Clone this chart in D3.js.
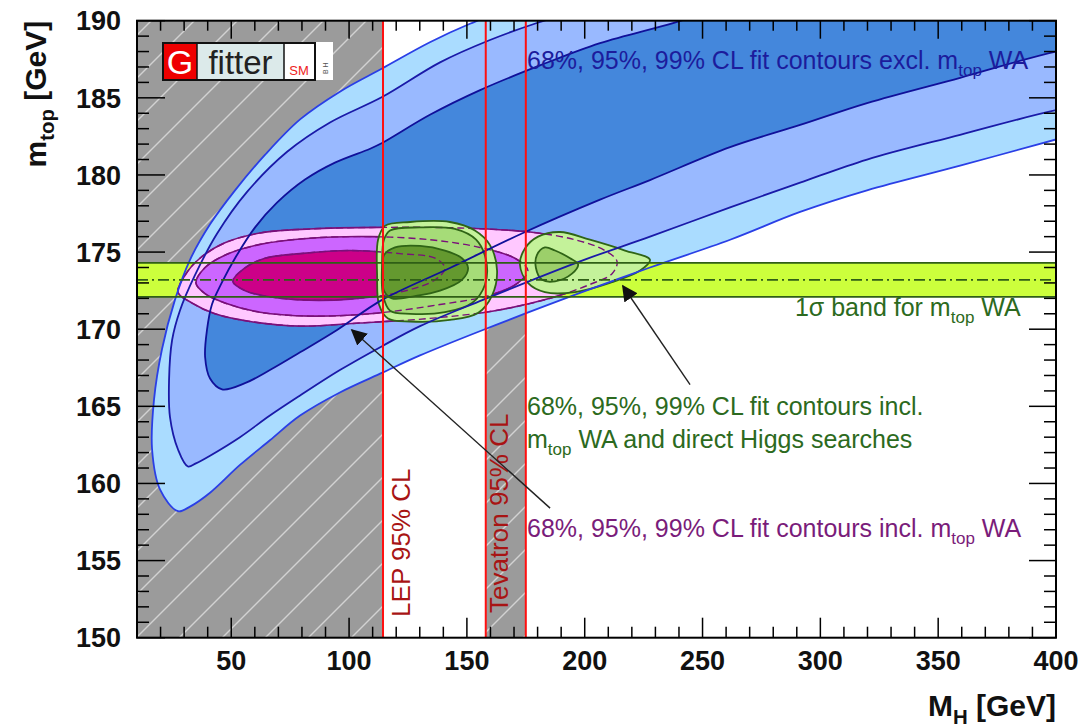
<!DOCTYPE html>
<html lang="en"><head><meta charset="utf-8">
<script src="https://d3js.org/d3.v7.min.js"></script>
<style>
body { margin: 0; background: #fff; }
svg text { font-family: "Liberation Sans", Arial, Helvetica, sans-serif; }
</style>
</head><body>
<div id="chart"></div>
<script>
// ---- data (MH [GeV], mtop [GeV]) ----
var lepLimit = 114.4;
var tevatronRange = [158, 175];
var mtopWA = 173.2;
var mtopBand = [172.1, 174.3];

var xTickLabels = [50, 100, 150, 200, 250, 300, 350, 400];
var yTickLabels = [150, 155, 160, 165, 170, 175, 180, 185, 190];

// fit excl. mtop WA
var blue99 = [[27.4,158.2],[19.8,159.6],[16.4,162.2],[17.2,165.4],[20.6,168.7],[26.1,171.9],[32.5,174.5],[41.0,176.8],[51.6,179.0],[64.3,181.3],[79.2,183.6],[96.1,185.4],[114.0,186.9],[134.3,188.6],[151.3,189.8],[172.5,191.0],[260,194],[430,194],[430,183.5],[400,182.3],[359.3,180.6],[319.8,179.0],[291.4,177.6],[261.7,175.8],[227.7,174.0],[198.0,172.35],[156.8,169.95],[130.1,168.3],[114.4,167.2],[96.1,165.9],[79.2,164.4],[66.4,162.8],[53.7,161.2],[41.0,159.4],[32.5,158.5]];
var blue95 = [[31.6,161.1],[27.4,162.2],[24.0,164.3],[23.6,166.7],[24.9,169.3],[28.2,171.2],[34.6,173.5],[44.0,176.2],[56.7,178.9],[73.7,181.5],[91.9,183.4],[114.0,185.05],[138.6,187.3],[159.8,188.75],[179.7,189.85],[198.0,190.7],[280,194],[430,194],[430,185.0],[400,184.2],[359.3,182.6],[319.8,181.0],[291.4,179.5],[261.7,177.9],[227.7,176.0],[198.0,174.4],[156.8,171.9],[130.1,170.2],[114.0,168.9],[96.1,167.35],[79.2,165.7],[66.4,164.4],[53.7,163.0],[41.0,161.8],[35.0,161.3]];
var blue68 = [[46.1,166.1],[41.0,166.8],[38.9,168.2],[39.7,169.95],[41.8,171.6],[46.1,173.05],[51.6,174.6],[60.1,176.6],[69.4,178.2],[81.3,179.7],[94.0,180.8],[108.9,181.7],[114.0,182.07],[134.3,183.9],[155.6,185.5],[181.0,187.1],[206.5,188.55],[237.5,189.85],[257.4,190.8],[330,194],[430,194],[430,188.8],[400,188.0],[359.3,186.3],[319.8,184.66],[291.4,183.24],[261.7,181.8],[227.7,179.67],[206.5,178.4],[173.8,176.24],[142.8,173.97],[114.0,171.9],[94.9,169.95],[79.2,168.5],[66.4,167.35],[55.8,166.5]];

// fit incl. mtop WA
var pink99 = [[27.4,172.4],[30.4,173.5],[36.7,174.6],[47.3,175.6],[62.2,176.24],[83.4,176.5],[113.1,176.6],[147.1,176.56],[176.8,176.3],[195.9,175.8],[208.6,175.1],[213.7,174.4],[211.6,173.6],[202.2,172.9],[185.3,172.0],[161.9,171.2],[134.3,170.7],[104.6,170.4],[79.2,170.2],[58.0,170.5],[43.1,171.0],[33.3,171.7]];
var pink95 = [[35.0,173.0],[38.9,174.0],[47.3,174.8],[62.2,175.5],[83.4,175.9],[108.9,176.0],[134.3,175.8],[155.6,175.3],[170.4,174.6],[175.9,173.8],[171.7,173.0],[159.8,172.2],[138.6,171.6],[108.9,171.0],[83.4,170.85],[62.2,171.1],[47.3,171.7],[38.9,172.3]];
var pink68 = [[50.7,173.1],[55.8,173.97],[64.3,174.6],[79.2,174.9],[100.4,175.1],[121.6,174.9],[136.5,174.6],[140.7,173.97],[136.5,173.2],[121.6,172.4],[100.4,171.95],[79.2,171.9],[64.3,172.15],[55.8,172.5]];

// fit incl. mtop WA and direct Higgs searches (two islands)
var green99a = [[112.3,175.8],[115.2,176.7],[125.9,176.95],[142.8,176.95],[153.4,176.4],[159.8,175.45],[162.8,173.8],[160.7,172.2],[154.7,171.05],[142.8,170.6],[125.9,170.5],[116.5,170.7],[112.7,171.6],[111.9,173.5]];
var green95a = [[114.8,175.8],[117.4,176.4],[130.1,176.6],[144.9,176.5],[153.9,175.8],[158.1,174.5],[157.7,172.9],[152.2,171.7],[140.7,171.1],[125.9,171.0],[117.4,171.2],[114.4,172.2],[114.0,174.2]];
var green68a = [[114.8,174.8],[119.5,175.3],[130.1,175.4],[140.7,175.1],[147.9,174.6],[150.5,173.97],[147.9,173.2],[138.6,172.5],[128.0,172.15],[118.2,172.0],[114.8,172.5],[114.4,173.8]];
var green99b = [[172.5,174.2],[174.7,175.25],[180.2,176.0],[189.5,176.3],[202.2,175.8],[217.1,175.1],[227.7,174.5],[223.5,173.8],[210.7,173.0],[195.9,172.4],[183.1,172.4],[175.9,173.0]];
var green95b = [[179.7,174.8],[183.1,175.3],[187.4,175.1],[193.8,174.6],[197.2,174.2],[194.6,173.6],[187.4,173.1],[181.9,173.2],[179.3,173.97]];

// ---- layout ----
var W = 1084, H = 727;
var pL = 137, pR = 1056, pT = 20.7, pB = 637.7;

var svg = d3.select("#chart").append("svg")
    .attr("width", W).attr("height", H);

var x = d3.scaleLinear().domain([10, 400]).range([pL, pR]);
var y = d3.scaleLinear().domain([150, 190]).range([pB, pT]);

var defs = svg.append("defs");
defs.append("clipPath").attr("id", "plotclip")
  .append("rect").attr("x", pL).attr("y", pT)
  .attr("width", pR - pL).attr("height", pB - pT);

var pat = defs.append("pattern").attr("id", "hatch")
    .attr("patternUnits", "userSpaceOnUse")
    .attr("width", 43).attr("height", 43);
pat.append("rect").attr("width", 43).attr("height", 43).attr("fill", "#9b9b9b");
[[0, 43, 43, 0], [-5, 5, 5, -5], [38, 48, 48, 38]].forEach(function (l) {
  pat.append("line").attr("x1", l[0]).attr("y1", l[1]).attr("x2", l[2]).attr("y2", l[3])
    .attr("stroke", "#d2d2d2").attr("stroke-width", 1.4);
});

var plot = svg.append("g").attr("clip-path", "url(#plotclip)");

// excluded regions
plot.append("rect").attr("x", x(10)).attr("y", y(190))
  .attr("width", x(lepLimit) - x(10)).attr("height", y(150) - y(190))
  .attr("fill", "url(#hatch)");
plot.append("rect").attr("x", x(tevatronRange[0])).attr("y", y(190))
  .attr("width", x(tevatronRange[1]) - x(tevatronRange[0])).attr("height", y(150) - y(190))
  .attr("fill", "url(#hatch)");

var contour = d3.line()
    .x(function (d) { return x(d[0]); })
    .y(function (d) { return y(d[1]); })
    .curve(d3.curveCatmullRomClosed.alpha(0.5));

// blue fills
[[blue99, "#aadcff"], [blue95, "#99b9ff"], [blue68, "#4487dc"]].forEach(function (c) {
  plot.append("path").attr("d", contour(c[0])).attr("fill", c[1]);
});

// top mass band fill
plot.append("rect").attr("x", pL).attr("y", y(mtopBand[1]))
  .attr("width", pR - pL).attr("height", y(mtopBand[0]) - y(mtopBand[1]))
  .attr("fill", "#ccff3c");

// pink fills + outlines
var pinks = [[pink99, "#ffc8ff"], [pink95, "#cc66ff"], [pink68, "#cc0088"]];
pinks.forEach(function (c) {
  plot.append("path").attr("d", contour(c[0])).attr("fill", c[1])
    .attr("stroke", "#7a107a").attr("stroke-width", 1.6);
});

// green fills
var greens = [[green99a, "#c4f29a"], [green95a, "#a6dc78"], [green68a, "#64992f"],
              [green99b, "#c4f29a"], [green95b, "#9ccf6a"]];
greens.forEach(function (c) {
  plot.append("path").attr("d", contour(c[0])).attr("fill", c[1]);
});
// pink outlines seen through the green
pinks.forEach(function (c) {
  plot.append("path").attr("d", contour(c[0])).attr("fill", "none")
    .attr("stroke", "#7a107a").attr("stroke-width", 1.4).attr("stroke-dasharray", "7,4");
});
greens.forEach(function (c) {
  plot.append("path").attr("d", contour(c[0])).attr("fill", "none")
    .attr("stroke", "#2f6416").attr("stroke-width", 1.8);
});

// blue outlines on top
[[blue99, "#2a3fe6"], [blue95, "#1a1aa8"], [blue68, "#10109a"]].forEach(function (c) {
  plot.append("path").attr("d", contour(c[0])).attr("fill", "none")
    .attr("stroke", c[1]).attr("stroke-width", 1.8);
});

// band lines
mtopBand.forEach(function (v) {
  plot.append("line").attr("x1", pL).attr("x2", pR).attr("y1", y(v)).attr("y2", y(v))
    .attr("stroke", "#2f5f16").attr("stroke-width", 1.8);
});
plot.append("line").attr("x1", pL).attr("x2", pR).attr("y1", y(mtopWA)).attr("y2", y(mtopWA))
  .attr("stroke", "#2f5f16").attr("stroke-width", 1.8).attr("stroke-dasharray", "11,4,2,4");

// exclusion limit lines
[lepLimit, tevatronRange[0], tevatronRange[1]].forEach(function (v) {
  plot.append("line").attr("x1", x(v)).attr("x2", x(v)).attr("y1", pT).attr("y2", pB)
    .attr("stroke", "#ff1010").attr("stroke-width", 2);
});

// ---- text annotations ----
// parts: strings are normal text, {sub: "..."} is a subscript
function addLabel(g, xx, yy, parts, size, color, rotate) {
  var t = g.append("text").attr("font-size", size).attr("fill", color);
  if (rotate) t.attr("transform", "translate(" + xx + "," + yy + ") rotate(-90)");
  else t.attr("x", xx).attr("y", yy);
  var shift = 0;
  parts.forEach(function (p) {
    if (typeof p === "string") {
      t.append("tspan").attr("dy", -shift).text(p);
      shift = 0;
    } else {
      shift = size * 0.28;
      t.append("tspan").attr("font-size", size * 0.68).attr("dy", shift).text(p.sub);
    }
  });
  return t;
}

var fs = 25;
addLabel(svg, x(175.5), y(186.87), ["68%, 95%, 99% CL fit contours excl. m", {sub: "top"}, " WA"], fs, "#1c1c9c");
addLabel(svg, x(175.5), y(164.43), ["68%, 95%, 99% CL fit contours incl."], fs, "#2c6a20");
addLabel(svg, x(175.5), y(162.3), ["m", {sub: "top"}, " WA and direct Higgs searches"], fs, "#2c6a20");
addLabel(svg, x(175.5), y(156.53), ["68%, 95%, 99% CL fit contours incl. m", {sub: "top"}, " WA"], fs, "#7a1c7a");
addLabel(svg, x(289.2), y(170.86), ["1\u03c3 band for m", {sub: "top"}, " WA"], fs, "#2c6a20");

addLabel(svg, x(lepLimit) + 27, y(151.35), ["LEP 95% CL"], 26, "#a81414", true);
addLabel(svg, x(tevatronRange[0]) + 22, y(151.6), ["Tevatron 95% CL"], 26, "#a81414", true);

// arrows
defs.append("marker").attr("id", "arrowhead")
  .attr("viewBox", "0 0 10 10").attr("refX", 9).attr("refY", 5)
  .attr("markerWidth", 16).attr("markerHeight", 16).attr("markerUnits", "userSpaceOnUse")
  .attr("orient", "auto")
  .append("path").attr("d", "M0,0 L10,5 L0,10 Z").attr("fill", "#111");

var arrows = [[[185.3, 158.4], [101.2, 169.95]], [[244.7, 166.4], [216.2, 172.8]]];
arrows.forEach(function (a) {
  svg.append("line")
    .attr("x1", x(a[0][0])).attr("y1", y(a[0][1]))
    .attr("x2", x(a[1][0])).attr("y2", y(a[1][1]))
    .attr("stroke", "#222").attr("stroke-width", 1.4)
    .attr("marker-end", "url(#arrowhead)");
});

// ---- axes: frame + inward ticks on all sides ----
var axes = svg.append("g").attr("stroke", "#000");
var xTicks = d3.range(10, 401, 10);
var yTicks = d3.range(150, 191, 1);
xTicks.forEach(function (v) {
  var major = v % 50 === 0;
  axes.append("line").attr("x1", x(v)).attr("x2", x(v))
    .attr("y1", pB).attr("y2", pB - (major ? 20 : 11)).attr("stroke-width", 1.5);
  axes.append("line").attr("x1", x(v)).attr("x2", x(v))
    .attr("y1", pT).attr("y2", pT + (major ? 18 : 10)).attr("stroke-width", 1.5);
});
yTicks.forEach(function (v) {
  var major = v % 5 === 0;
  axes.append("line").attr("x1", pL).attr("x2", pL + (major ? 28 : 12))
    .attr("y1", y(v)).attr("y2", y(v)).attr("stroke-width", 1.5);
  axes.append("line").attr("x1", pR).attr("x2", pR - (major ? 27 : 12))
    .attr("y1", y(v)).attr("y2", y(v)).attr("stroke-width", 1.5);
});
axes.append("rect").attr("x", pL).attr("y", pT)
  .attr("width", pR - pL).attr("height", pB - pT)
  .attr("fill", "none").attr("stroke-width", 2);

svg.append("g").selectAll("text").data(xTickLabels).join("text")
  .attr("x", function (d) { return x(d); }).attr("y", 670)
  .attr("text-anchor", "middle").attr("font-size", 27).attr("font-weight", "bold")
  .attr("fill", "#111").text(function (d) { return d; });
svg.append("g").selectAll("text").data(yTickLabels).join("text")
  .attr("x", 121).attr("y", function (d) { return y(d); }).attr("dy", "0.36em")
  .attr("text-anchor", "end").attr("font-size", 27).attr("font-weight", "bold")
  .attr("fill", "#111").text(function (d) { return d; });

var xt = addLabel(svg, pR, 716, ["M", {sub: "H"}, " [GeV]"], 30, "#111");
xt.attr("text-anchor", "end").attr("font-weight", "bold");
var yt = addLabel(svg, 46, pT, ["m", {sub: "top"}, " [GeV]"], 30, "#111", true);
yt.attr("text-anchor", "end").attr("font-weight", "bold");

// ---- Gfitter logo ----
var logo = svg.append("g");
logo.append("rect").attr("x", 163).attr("y", 43).attr("width", 34).attr("height", 37).attr("fill", "#ee0000");
logo.append("rect").attr("x", 197).attr("y", 43).attr("width", 87).attr("height", 37).attr("fill", "#dceaea");
logo.append("rect").attr("x", 284).attr("y", 43).attr("width", 31).attr("height", 37).attr("fill", "#fff");
logo.append("rect").attr("x", 163).attr("y", 43).attr("width", 152).attr("height", 37)
  .attr("fill", "none").attr("stroke", "#111").attr("stroke-width", 2);
logo.append("line").attr("x1", 197).attr("x2", 197).attr("y1", 43).attr("y2", 80).attr("stroke", "#111").attr("stroke-width", 1.5);
logo.append("line").attr("x1", 284).attr("x2", 284).attr("y1", 43).attr("y2", 80).attr("stroke", "#111").attr("stroke-width", 1.5);
logo.append("rect").attr("x", 316).attr("y", 42).attr("width", 17).attr("height", 38).attr("fill", "#fff");
logo.append("text").attr("x", 180).attr("y", 74).attr("text-anchor", "middle")
  .attr("font-size", 34).attr("fill", "#fff").text("G");
logo.append("text").attr("x", 240.5).attr("y", 74).attr("text-anchor", "middle")
  .attr("font-size", 33).attr("fill", "#222").text("fitter");
logo.append("text").attr("x", 299).attr("y", 75).attr("text-anchor", "middle")
  .attr("font-size", 13).attr("fill", "#ee2222").text("SM");
logo.append("text").attr("transform", "translate(328,74) rotate(-90)")
  .attr("font-size", 7).attr("fill", "#555").text("B  H");
</script>
</body></html>
